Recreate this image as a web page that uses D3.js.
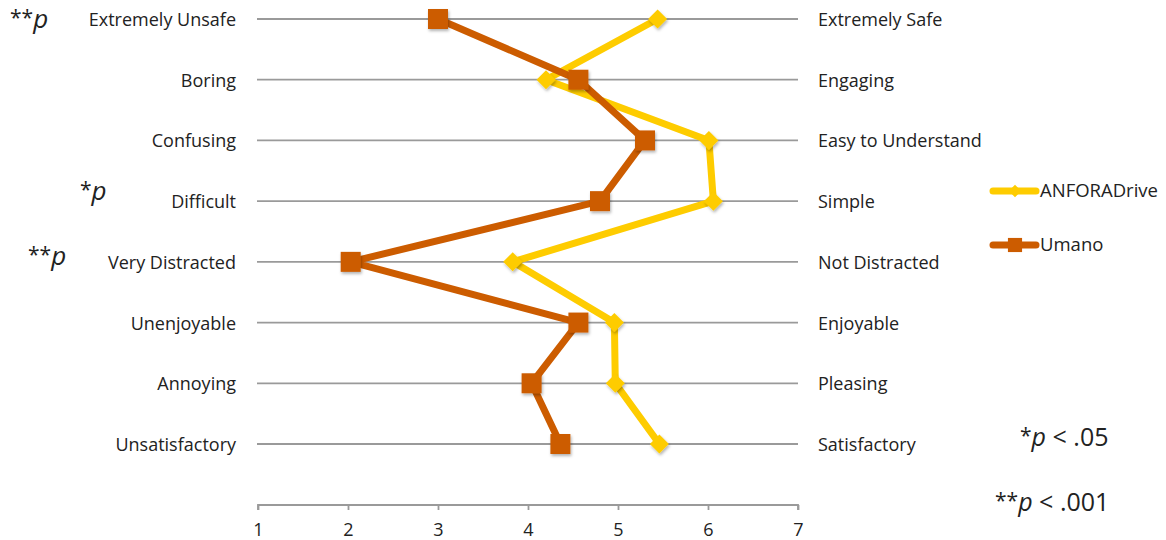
<!DOCTYPE html>
<html><head><meta charset="utf-8">
<script src="https://cdn.jsdelivr.net/npm/d3@7"></script>
<style>body{margin:0;background:#fff;}svg{display:block;font-family:"Open Sans",sans-serif;}</style>
</head><body>
<script>
const leftLabels = ["Extremely Unsafe","Boring","Confusing","Difficult ","Very Distracted","Unenjoyable","Annoying","Unsatisfactory"];
const rightLabels = ["Extremely Safe","Engaging","Easy to Understand","Simple","Not Distracted","Enjoyable","Pleasing","Satisfactory"];
const anforaValues = [5.44,4.2,6.01,6.06,3.83,4.96,4.97,5.46];
const umanoValues = [3.0,4.56,5.3,4.8,2.03,4.56,4.04,4.36];
const xTicks = [1,2,3,4,5,6,7];
const sigMarks = [{row:0,stars:"**"},{row:3,stars:"*"},{row:4,stars:"**"}];
const seriesNames = ["ANFORADrive","Umano"];

const W=1166,H=540;
const svg=d3.select("body").append("svg").attr("width",W).attr("height",H);
const defs=svg.append("defs");
const f=defs.append("filter").attr("id","sh").attr("x","-50%").attr("y","-50%").attr("width","200%").attr("height","200%");
f.append("feDropShadow").attr("dx",1).attr("dy",2).attr("stdDeviation",1.5).attr("flood-color","#000").attr("flood-opacity",0.3);

const x=d3.scaleLinear().domain([1,7]).range([258,798]);
const y=d3.scalePoint().domain(d3.range(leftLabels.length)).range([19,444]);

// gridlines
svg.append("g").selectAll("line").data(d3.range(leftLabels.length)).join("line")
 .attr("x1",257).attr("x2",798).attr("y1",d=>y(d)).attr("y2",d=>y(d))
 .attr("stroke","#9a9a9a").attr("stroke-width",1.8);

// labels
svg.append("g").selectAll("text").data(leftLabels).join("text")
 .attr("x",236).attr("y",(d,i)=>y(i)+7).attr("text-anchor","end")
 .attr("font-size",18).attr("fill","#222").text(d=>d);
svg.append("g").selectAll("text").data(rightLabels).join("text")
 .attr("x",818).attr("y",(d,i)=>y(i)+7).attr("text-anchor","start")
 .attr("font-size",18).attr("fill","#222").text(d=>d);

// axis
const ax=svg.append("g").attr("transform","translate(0,505)")
 .call(d3.axisBottom(x).tickValues(xTicks).tickFormat(d3.format("d")).tickSize(6).tickPadding(12));
ax.attr("font-size",18).attr("font-family","Open Sans, sans-serif");
ax.select(".domain").attr("stroke","#9a9a9a").attr("stroke-width",1.8).attr("d","M258,5V0H798V5");
ax.selectAll(".tick line").attr("stroke","#9a9a9a").attr("stroke-width",1.8).attr("y1",0).attr("y2",5);
ax.selectAll(".tick text").attr("font-size",18).attr("fill","#222");

const yellow="#FECC00", orange="#CC5C00";
const line=d3.line().x(d=>x(d)).y((d,i)=>y(i));

function drawSeries(vals,color,shape){
  const g=svg.append("g");
  g.append("path").attr("d",line(vals)).attr("fill","none").attr("stroke",color)
   .attr("stroke-width",7).attr("stroke-linejoin","round");
  const sym=shape==="square"?d3.symbol().type(d3.symbolSquare).size(400):d3.symbol().type(d3.symbolDiamond2).size(230);
  g.selectAll("path.m").data(vals).join("path").attr("class","m")
   .attr("d",sym).attr("transform",(d,i)=>`translate(${x(d)},${y(i)})`)
   .attr("fill",color).attr("filter","url(#sh)");
}
drawSeries(anforaValues,yellow,"diamond");
drawSeries(umanoValues,orange,"square");

// legend
const lg=[{name:seriesNames[0],c:yellow,shape:"diamond",yy:191},{name:seriesNames[1],c:orange,shape:"square",yy:245}];
lg.forEach(l=>{
  svg.append("line").attr("x1",993).attr("x2",1036).attr("y1",l.yy).attr("y2",l.yy).attr("stroke",l.c).attr("stroke-width",7).attr("stroke-linecap","round");
  const s=l.shape==="square"?d3.symbol().type(d3.symbolSquare).size(200):d3.symbol().type(d3.symbolDiamond2).size(100);
  svg.append("path").attr("d",s).attr("transform",`translate(1015,${l.yy})`).attr("fill",l.c);
  svg.append("text").attr("x",1040).attr("y",l.yy+6).attr("font-size",18.5).attr("fill","#222").text(l.name);
});

// significance marks
const sigPos={0:[10,28],3:[80,200],4:[28,265]};
sigMarks.forEach(s=>{
  const t=svg.append("text").attr("x",sigPos[s.row][0]).attr("y",sigPos[s.row][1]).attr("font-size",26).attr("fill","#222");
  t.append("tspan").text(s.stars).attr("font-size",21).attr("dy",-3);
  t.append("tspan").text("p").attr("font-style","italic").attr("dy",3);
});
// notes
[{stars:"*",txt:" < .05",x:1020,y:446},{stars:"**",txt:" < .001",x:995,y:511}].forEach(n=>{
  const t=svg.append("text").attr("x",n.x).attr("y",n.y).attr("font-size",25).attr("fill","#222");
  t.append("tspan").text(n.stars).attr("font-size",21).attr("dy",-3);
  t.append("tspan").text("p").attr("font-style","italic").attr("dy",3);
  t.append("tspan").text(n.txt);
});
</script>
</body></html>
